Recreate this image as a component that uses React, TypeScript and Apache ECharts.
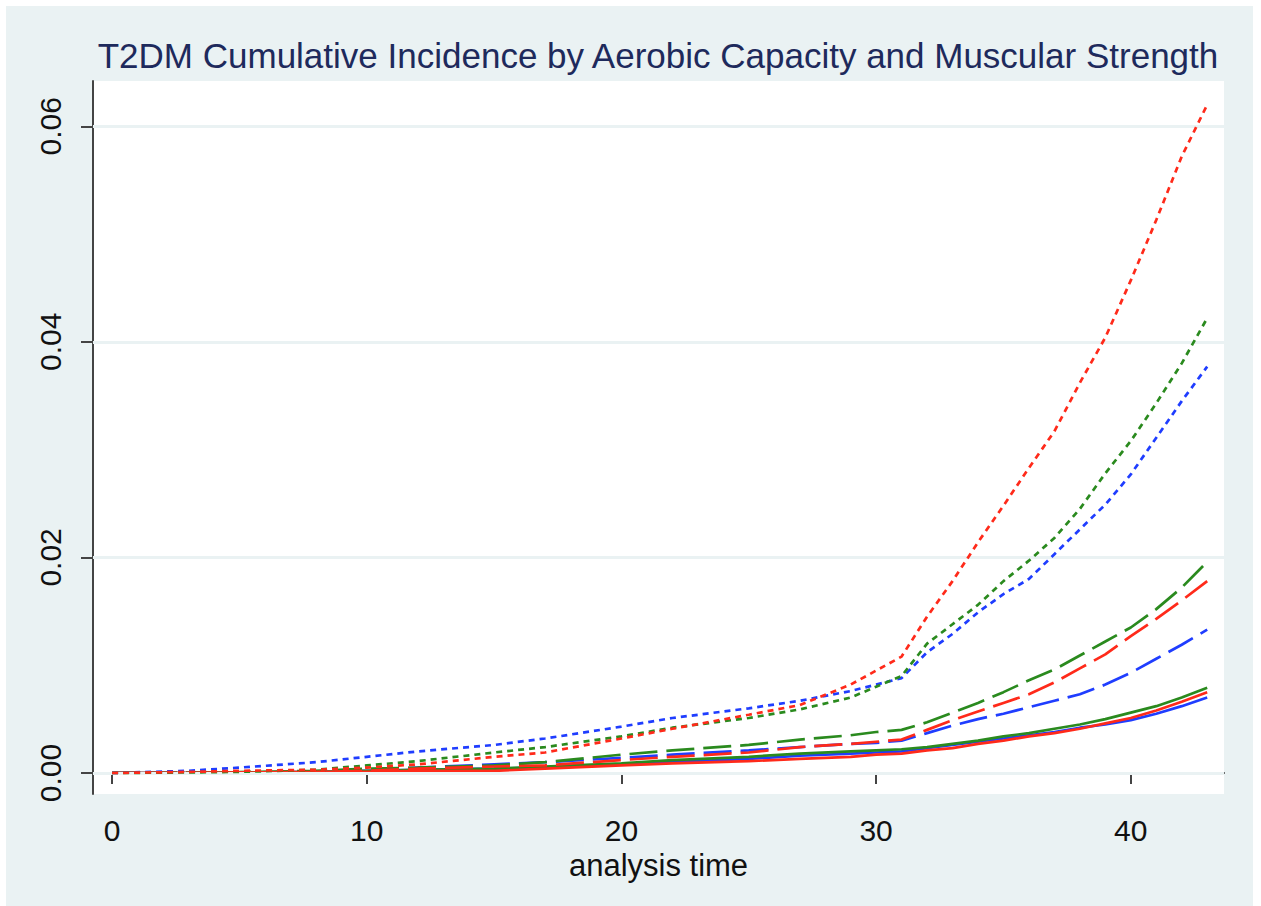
import React, { useEffect, useRef } from "react";
import * as echarts from "echarts";

const time = [0, 3, 5, 8, 10, 12, 15, 17, 20, 22, 25, 27, 29, 30, 31, 32, 33, 34, 35, 36, 37, 38, 39, 40, 41, 42, 43];

const redShort = [0, 0.0001, 0.0002, 0.0003, 0.0005, 0.0008, 0.0015, 0.0019, 0.0032, 0.0041, 0.0054, 0.0063, 0.0082, 0.0095, 0.0108, 0.0145, 0.0178, 0.0214, 0.0248, 0.0283, 0.0317, 0.0362, 0.0404, 0.0457, 0.0513, 0.0572, 0.062];
const greenShort = [0, 0.00005, 0.0001, 0.0003, 0.0007, 0.0011, 0.0019, 0.0024, 0.0034, 0.0042, 0.0051, 0.0059, 0.007, 0.008, 0.009, 0.012, 0.0138, 0.0156, 0.0178, 0.0197, 0.0218, 0.0245, 0.0278, 0.0308, 0.0343, 0.038, 0.0422];
const blueShort = [0, 0.0002, 0.0005, 0.001, 0.0015, 0.002, 0.0026, 0.0032, 0.0043, 0.0051, 0.006, 0.0067, 0.0076, 0.0082, 0.0088, 0.0112, 0.0129, 0.0149, 0.0166, 0.018, 0.0203, 0.0226, 0.0249, 0.0277, 0.0311, 0.0345, 0.0377];

const greenLong = [0, 0.00003, 0.00008, 0.0002, 0.0004, 0.0005, 0.0007, 0.001, 0.0017, 0.0021, 0.0026, 0.0031, 0.0035, 0.0038, 0.004, 0.0047, 0.0056, 0.0065, 0.0075, 0.0086, 0.0096, 0.0109, 0.0122, 0.0135, 0.0152, 0.0172, 0.0196];
const redLong = [0, 0.00002, 0.00005, 0.0001, 0.0002, 0.0004, 0.0006, 0.0007, 0.0012, 0.0015, 0.0019, 0.0024, 0.0027, 0.0029, 0.0031, 0.004, 0.0049, 0.0057, 0.0065, 0.0073, 0.0084, 0.0097, 0.011, 0.0127, 0.0143, 0.016, 0.0178];
const blueLong = [0, 0.00002, 0.00005, 0.0001, 0.0003, 0.0005, 0.0008, 0.001, 0.0014, 0.0017, 0.0021, 0.0024, 0.0027, 0.0028, 0.003, 0.0037, 0.0044, 0.005, 0.0055, 0.0061, 0.0067, 0.0073, 0.0082, 0.0093, 0.0106, 0.0119, 0.0133];

const greenSolid = [0, 0.00002, 0.00005, 0.0001, 0.0002, 0.0003, 0.0004, 0.0006, 0.0009, 0.0012, 0.0015, 0.0018, 0.002, 0.0021, 0.0022, 0.0024, 0.0027, 0.003, 0.0034, 0.0037, 0.0041, 0.0045, 0.005, 0.0056, 0.0062, 0.007, 0.0079];
const redSolid = [0, 0.00001, 0.00003, 0.0001, 0.0001, 0.0002, 0.0002, 0.0004, 0.0007, 0.0009, 0.0011, 0.0013, 0.0015, 0.0017, 0.0018, 0.0021, 0.0023, 0.0027, 0.003, 0.0034, 0.0037, 0.0041, 0.0046, 0.0051, 0.0058, 0.0066, 0.0075];
const blueSolid = [0, 0.00001, 0.00003, 0.0001, 0.0002, 0.0003, 0.0004, 0.0005, 0.0008, 0.001, 0.0013, 0.0016, 0.0018, 0.0019, 0.002, 0.0023, 0.0026, 0.0029, 0.0032, 0.0035, 0.0038, 0.0042, 0.0045, 0.0049, 0.0055, 0.0062, 0.007];

const xTicks = [0, 10, 20, 30, 40];
const yTicks = [0, 0.02, 0.04, 0.06];

const titleText = "T2DM Cumulative Incidence by Aerobic Capacity and Muscular Strength";
const xName = "analysis time";

const RED = "#ff2a1a";
const GREEN = "#2a8a1e";
const BLUE = "#1f3dff";
const BG = "#eaf2f3";
const FONT = "Liberation Sans, Arial, sans-serif";

function pairs(vals: number[]) {
  return time.map((t, i) => [t, vals[i]]);
}

export default function App() {
  const ref = useRef<HTMLDivElement>(null);
  useEffect(() => {
    if (!ref.current) return;
    const chart = echarts.init(ref.current, null, { renderer: "svg" });
    const mk = (name: string, vals: number[], color: string, type: any, z: number) => ({
      name,
      type: "line",
      data: pairs(vals),
      showSymbol: false,
      symbol: "none",
      z,
      lineStyle: { color, width: 2.7, type },
    });
    const shortDash = [6, 5];
    const longDash = [28, 9];
    chart.setOption({
      animation: false,
      backgroundColor: "#ffffff",
      graphic: [
        { type: "rect", z: -10, silent: true, shape: { x: 6, y: 6, width: 1247, height: 900 }, style: { fill: BG } },
      ],
      title: {
        text: titleText,
        left: 653,
        top: 33,
        textAlign: "center",
        textStyle: { fontFamily: FONT, fontSize: 35, fontWeight: "normal", color: "#1e2a5c" },
      },
      grid: { left: 93, top: 81, width: 1131, height: 713, show: true, backgroundColor: "#ffffff", borderWidth: 0 },
      xAxis: {
        type: "value",
        min: -0.75,
        max: 43.66,
        name: xName,
        nameLocation: "middle",
        nameGap: 56,
        nameTextStyle: { fontFamily: FONT, fontSize: 31, color: "#111" },
        axisLine: { show: true, lineStyle: { color: "#444", width: 2 } },
        axisTick: { show: true, length: 11, lineStyle: { color: "#444", width: 2 }, customValues: xTicks },
        axisLabel: { customValues: xTicks, margin: 21, fontFamily: FONT, fontSize: 30, color: "#111" },
        splitLine: { show: false },
      },
      yAxis: {
        type: "value",
        min: -0.00195,
        max: 0.0642,
        axisLine: { show: true, onZero: false, lineStyle: { color: "#444", width: 2 } },
        axisTick: { show: true, length: 12, lineStyle: { color: "#444", width: 2 }, customValues: yTicks },
        axisLabel: {
          customValues: yTicks,
          rotate: 90,
          margin: 28,
          fontFamily: FONT,
          fontSize: 30,
          color: "#111",
          formatter: (v: number) => v.toFixed(2),
        },
        splitLine: { show: false },
      },
      series: [
        {
          type: "line",
          data: [],
          silent: true,
          markLine: {
            silent: true,
            symbol: "none",
            label: { show: false },
            lineStyle: { color: BG, width: 3, type: "solid" },
            data: yTicks.map((v) => ({ yAxis: v })),
          },
        },
        mk("blue solid", blueSolid, BLUE, "solid", 3),
        mk("green solid", greenSolid, GREEN, "solid", 3),
        mk("red solid", redSolid, RED, "solid", 3),
        mk("blue long", blueLong, BLUE, longDash, 4),
        mk("green long", greenLong, GREEN, longDash, 4),
        mk("red long", redLong, RED, longDash, 4),
        mk("blue short", blueShort, BLUE, shortDash, 5),
        mk("green short", greenShort, GREEN, shortDash, 5),
        mk("red short", redShort, RED, shortDash, 5),
      ],
    });
    return () => chart.dispose();
  }, []);
  return <div ref={ref} style={{ position: "fixed", left: 0, top: 0, width: 1261, height: 906 }} />;
}
